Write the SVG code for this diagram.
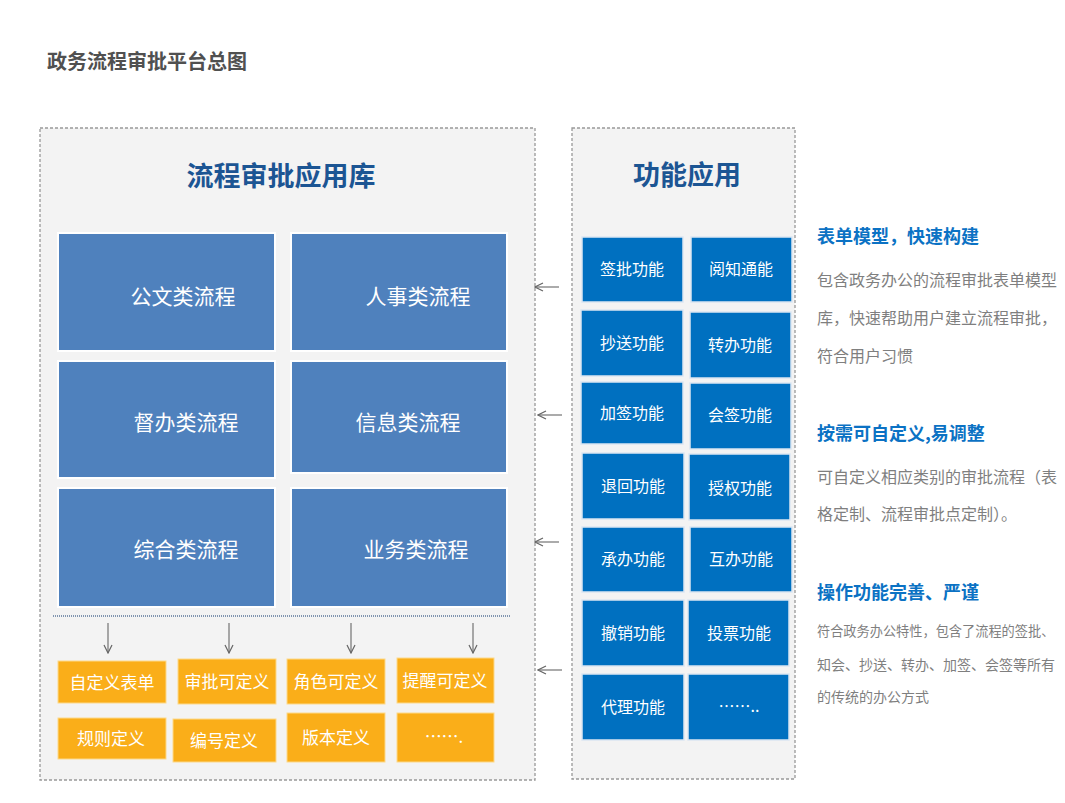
<svg xmlns="http://www.w3.org/2000/svg" width="1065" height="803" viewBox="0 0 1065 803">
<defs>
<marker id="ah" viewBox="0 0 10 10" refX="9" refY="5" markerWidth="10" markerHeight="10" markerUnits="userSpaceOnUse" orient="auto">
<path d="M1,1 L9,5 L1,9" fill="none" stroke="#666" stroke-width="1.2"/>
</marker>
<style>
text{font-family:"Noto Sans CJK SC","Noto Sans",sans-serif}
.cont{fill:#f3f3f3;stroke:#999;stroke-width:1.3;stroke-dasharray:3 2}
.blue{fill:#4f81bd;stroke:#fff;stroke-width:2}
.fn{fill:#0070c0;stroke:#dbe6f2;stroke-width:1.5}
.or{fill:#faae19;stroke:#fdd98a;stroke-width:1}
.bt{fill:#fff;font-size:21px;text-anchor:middle;dominant-baseline:central}
.ft{fill:#fff;font-size:16px;text-anchor:middle;dominant-baseline:central}
.ot{fill:#fff;font-size:17px;text-anchor:middle;dominant-baseline:central}
.hd{fill:#1c5593;font-size:27px;font-weight:bold;text-anchor:middle;dominant-baseline:central}
.rh{fill:#0b72c4;font-size:18px;font-weight:bold;dominant-baseline:central}
.rb{fill:#7f7f7f;font-size:16px;dominant-baseline:central}
.rs{fill:#7f7f7f;font-size:14px;dominant-baseline:central}
.rs2{fill:#7f7f7f;font-size:13.2px;dominant-baseline:central}
.conn line{stroke:#666;stroke-width:1.1;marker-end:url(#ah)}
</style>
</defs>
<rect width="1065" height="803" fill="#fff"/>
<text id="title" x="47" y="60" fill="#505050" font-size="20" font-weight="bold" dominant-baseline="central">政务流程审批平台总图</text>

<g id="library">
<rect class="cont" x="40" y="128" width="495" height="652"/>
<text class="hd" x="281" y="174">流程审批应用库</text>
</g>
<g id="functions">
<rect class="cont" x="572" y="128" width="223" height="651"/>
<text class="hd" x="687" y="173">功能应用</text>
</g>

<g id="n-gongwen"><rect class="blue" x="58" y="233" width="217" height="118"/><text class="bt" x="183" y="295">公文类流程</text></g>
<g id="n-renshi"><rect class="blue" x="291" y="233" width="216" height="118"/><text class="bt" x="418" y="295">人事类流程</text></g>
<g id="n-duban"><rect class="blue" x="58" y="361" width="217" height="117"/><text class="bt" x="186" y="421">督办类流程</text></g>
<g id="n-xinxi"><rect class="blue" x="291" y="361" width="216" height="112"/><text class="bt" x="408" y="421">信息类流程</text></g>
<g id="n-zonghe"><rect class="blue" x="58" y="488" width="217" height="119"/><text class="bt" x="186" y="548">综合类流程</text></g>
<g id="n-yewu"><rect class="blue" x="291" y="488" width="216" height="119"/><text class="bt" x="416" y="548">业务类流程</text></g>

<line x1="53" y1="616" x2="510" y2="616" stroke="#8095b0" stroke-width="2" stroke-dasharray="1 1"/>

<g id="o-zdybd"><rect class="or" x="58" y="661" width="108" height="42"/><text class="ot" x="112" y="681">自定义表单</text></g>
<g id="o-spkdy"><rect class="or" x="178" y="659" width="98" height="45"/><text class="ot" x="227" y="680">审批可定义</text></g>
<g id="o-jskdy"><rect class="or" x="287" y="659" width="98" height="45"/><text class="ot" x="336" y="680">角色可定义</text></g>
<g id="o-txkdy"><rect class="or" x="397" y="658" width="97" height="45"/><text class="ot" x="445" y="679">提醒可定义</text></g>
<g id="o-gzdy"><rect class="or" x="58" y="718" width="108" height="41"/><text class="ot" x="111" y="737">规则定义</text></g>
<g id="o-bhdy"><rect class="or" x="173" y="719" width="103" height="43"/><text class="ot" x="224" y="739">编号定义</text></g>
<g id="o-bbdy"><rect class="or" x="287" y="713" width="98" height="49"/><text class="ot" x="336" y="736">版本定义</text></g>
<g id="o-more"><rect class="or" x="397" y="713" width="97" height="49"/><text class="ot" x="444" y="735">…….</text></g>

<g id="f-qp"><rect class="fn" x="582" y="237" width="101" height="65"/><text class="ft" x="632" y="268">签批功能</text></g>
<g id="f-yz"><rect class="fn" x="691" y="237" width="101" height="65"/><text class="ft" x="741" y="268">阅知通能</text></g>
<g id="f-cs"><rect class="fn" x="581" y="310" width="102" height="66"/><text class="ft" x="632" y="342">抄送功能</text></g>
<g id="f-zb"><rect class="fn" x="690" y="312" width="101" height="66"/><text class="ft" x="740" y="344">转办功能</text></g>
<g id="f-jq"><rect class="fn" x="581" y="382" width="102" height="62"/><text class="ft" x="632" y="412">加签功能</text></g>
<g id="f-hq"><rect class="fn" x="690" y="383" width="101" height="66"/><text class="ft" x="740" y="414">会签功能</text></g>
<g id="f-th"><rect class="fn" x="582" y="453" width="102" height="66"/><text class="ft" x="633" y="485">退回功能</text></g>
<g id="f-sq"><rect class="fn" x="689" y="454" width="101" height="66"/><text class="ft" x="740" y="487">授权功能</text></g>
<g id="f-cb"><rect class="fn" x="582" y="527" width="102" height="65"/><text class="ft" x="633" y="558">承办功能</text></g>
<g id="f-hb"><rect class="fn" x="690" y="527" width="102" height="65"/><text class="ft" x="741" y="558">互办功能</text></g>
<g id="f-cx"><rect class="fn" x="582" y="600" width="102" height="66"/><text class="ft" x="633" y="632">撤销功能</text></g>
<g id="f-tp"><rect class="fn" x="688" y="600" width="101" height="66"/><text class="ft" x="739" y="632">投票功能</text></g>
<g id="f-dl"><rect class="fn" x="582" y="674" width="102" height="66"/><text class="ft" x="633" y="706">代理功能</text></g>
<g id="f-more"><rect class="fn" x="688" y="674" width="101" height="66"/><text class="ft" x="739" y="705">……..</text></g>

<g id="connectors" class="conn">
<line x1="108" y1="623" x2="108" y2="653"/>
<line x1="229" y1="623" x2="229" y2="653"/>
<line x1="351" y1="623" x2="351" y2="653"/>
<line x1="473" y1="623" x2="473" y2="653"/>
<line x1="559" y1="287" x2="535" y2="287"/>
<line x1="562" y1="415" x2="538" y2="415"/>
<line x1="559" y1="542" x2="535" y2="542"/>
<line x1="562" y1="670" x2="538" y2="670"/>
</g>

<g id="desc1">
<text class="rh" x="817" y="235">表单模型，快速构建</text>
<text class="rb" x="817" y="279">包含政务办公的流程审批表单模型</text>
<text class="rb" x="817" y="317">库，快速帮助用户建立流程审批，</text>
<text class="rb" x="817" y="355">符合用户习惯</text>
</g>
<g id="desc2">
<text class="rh" x="817" y="432">按需可自定义,易调整</text>
<text class="rb" x="817" y="476">可自定义相应类别的审批流程（表</text>
<text class="rb" x="817" y="513">格定制、流程审批点定制）。</text>
</g>
<g id="desc3">
<text class="rh" x="817" y="591">操作功能完善、严谨</text>
<text class="rs2" x="817" y="630">符合政务办公特性，包含了流程的签批、</text>
<text class="rs" x="817" y="664">知会、抄送、转办、加签、会签等所有</text>
<text class="rs" x="817" y="696">的传统的办公方式</text>
</g>
</svg>
